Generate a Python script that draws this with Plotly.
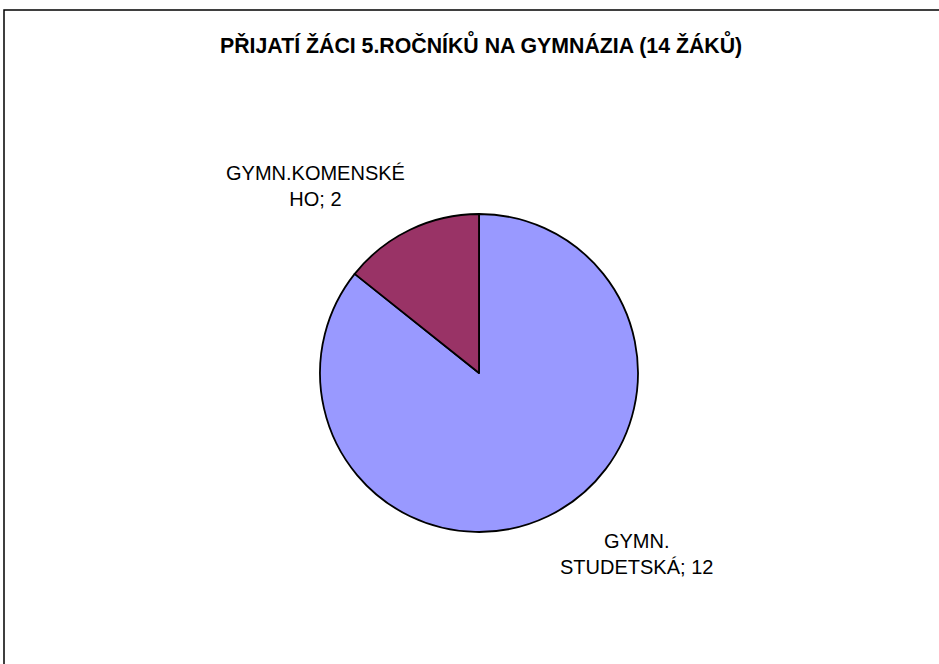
import plotly.graph_objects as go

title_text = "PŘIJATÍ ŽÁCI 5.ROČNÍKŮ NA GYMNÁZIA (14 ŽÁKŮ)"
categories = ["GYMN. STUDETSKÁ", "GYMN.KOMENSKÉHO"]
label_lines = [["GYMN.", "STUDETSKÁ"], ["GYMN.KOMENSKÉ", "HO"]]
values = [12, 2]
colors = ["#9999FF", "#993366"]

W, H = 939, 664
cx, cy, r = 479, 373, 159

fig = go.Figure(go.Pie(
    labels=categories,
    values=values,
    sort=False,
    direction="clockwise",
    rotation=0,
    marker=dict(colors=colors, line=dict(color="black", width=1.8)),
    textinfo="none",
    hoverinfo="label+value",
    showlegend=False,
    domain=dict(x=[(cx - r) / W, (cx + r) / W], y=[1 - (cy + r) / H, 1 - (cy - r) / H]),
))

label_pos = [(636, 554), (315, 186)]
annotations = []
for lines, v, (lx, ly) in zip(label_lines, values, label_pos):
    annotations.append(dict(
        text=lines[0] + "<br>" + lines[1] + "; " + str(v),
        x=lx / W, y=1 - ly / H, xref="paper", yref="paper",
        xanchor="center", yanchor="middle",
        showarrow=False, align="center",
        font=dict(family="Liberation Sans, Arial", size=20, color="black"),
    ))
annotations.append(dict(
    text="<b>" + title_text + "</b>",
    x=481 / W, y=1 - 44 / H, xref="paper", yref="paper",
    xanchor="center", yanchor="middle",
    showarrow=False, font=dict(family="Liberation Sans, Arial", size=21.3, color="black"),
))

fig.update_layout(
    width=W, height=H,
    margin=dict(l=0, r=0, t=0, b=0),
    paper_bgcolor="white",
    plot_bgcolor="white",
    annotations=annotations,
    shapes=[dict(type="rect", xref="paper", yref="paper",
                 x0=4 / W, x1=1.05, y0=-0.05, y1=1 - 10 / H,
                 line=dict(color="black", width=1.5))],
)

fig.write_html("out.html", config={"displayModeBar": False},
               post_script="document.body.style.margin='0';document.body.style.overflow='hidden';")
